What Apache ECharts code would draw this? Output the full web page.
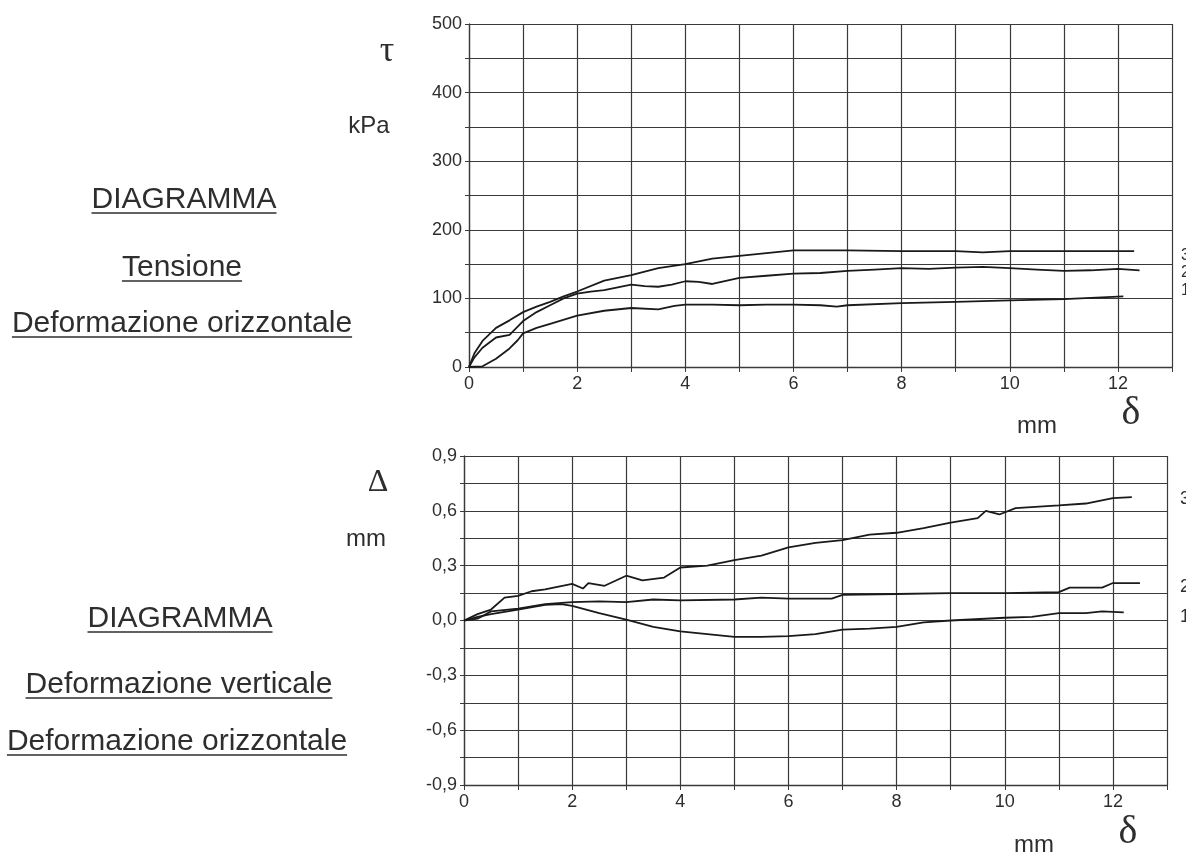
<!DOCTYPE html>
<meta charset="utf-8" />
<style>
html, body { margin: 0; padding: 0; background: #fff; }
#chart { width: 1186px; height: 857px; }
</style>
<div id="chart"></div>
<script src="https://cdn.jsdelivr.net/npm/echarts@6/dist/echarts.min.js"></script>
<script>
// Tensione τ (kPa) vs deformazione orizzontale δ (mm)
const tauX1 = [0, 0.25, 0.5, 0.75, 0.9, 1, 1.25, 1.5, 2, 2.5, 3, 3.5, 3.8, 4, 4.5, 5, 5.5, 6, 6.5, 6.8, 7, 8, 9, 10, 11, 12.1];
const tau1  = [0, 1, 12, 27, 39, 49, 57, 63, 75, 82, 86, 84, 89, 91, 91, 90, 91, 91, 90, 88, 90, 93, 95, 97, 99, 103];
const tauX2 = [0, 0.1, 0.25, 0.5, 0.75, 1, 1.25, 1.5, 1.75, 2, 2.25, 2.5, 2.75, 3, 3.25, 3.5, 3.75, 4, 4.25, 4.5, 5, 5.5, 6, 6.5, 7, 7.5, 8, 8.5, 9, 9.5, 10, 10.5, 11, 11.5, 12, 12.4];
const tau2  = [0, 14, 28, 43, 47, 67, 80, 90, 100, 107, 110, 112, 116, 120, 118, 117, 120, 125, 124, 121, 130, 133, 136, 137, 140, 142, 144, 143, 145, 146, 144, 142, 140, 141, 143, 141];
const tauX3 = [0, 0.1, 0.25, 0.5, 0.75, 1, 1.25, 1.5, 1.75, 2, 2.5, 3, 3.5, 4, 4.5, 5, 5.5, 6, 7, 8, 9, 9.5, 10, 11, 12, 12.3];
const tau3  = [0, 20, 38, 57, 68, 80, 88, 95, 103, 110, 126, 134, 144, 150, 158, 162, 166, 170, 170, 169, 169, 167, 169, 169, 169, 169];

// Deformazione verticale Δ (mm) vs deformazione orizzontale δ (mm)
const dX1 = [0, 0.25, 0.5, 1, 1.5, 1.8, 2, 2.5, 3, 3.5, 4, 4.5, 5, 5.5, 6, 6.5, 7, 7.5, 8, 8.5, 9, 10, 10.5, 11, 11.5, 11.8, 12.2];
const d1  = [0, 0.02, 0.035, 0.06, 0.085, 0.09, 0.08, 0.04, 0.005, -0.035, -0.06, -0.075, -0.09, -0.09, -0.085, -0.075, -0.05, -0.045, -0.035, -0.01, 0, 0.015, 0.02, 0.04, 0.04, 0.05, 0.045];
const dX2 = [0, 0.25, 0.5, 1, 1.5, 2, 2.5, 3, 3.5, 4, 5, 5.5, 6, 6.5, 6.8, 7, 8, 9, 10, 11, 11.2, 11.8, 12, 12.5];
const d2  = [0, 0.01, 0.05, 0.065, 0.09, 0.1, 0.105, 0.1, 0.115, 0.11, 0.115, 0.125, 0.12, 0.12, 0.12, 0.14, 0.145, 0.15, 0.15, 0.155, 0.18, 0.18, 0.205, 0.205];
const dX3 = [0, 0.25, 0.5, 0.75, 1, 1.25, 1.5, 2, 2.2, 2.3, 2.6, 3, 3.3, 3.7, 4, 4.5, 5, 5.5, 6, 6.5, 7, 7.5, 8, 8.5, 9, 9.5, 9.65, 9.9, 10.2, 11, 11.5, 12, 12.35];
const d3  = [0, 0.035, 0.06, 0.125, 0.135, 0.16, 0.17, 0.2, 0.175, 0.205, 0.19, 0.245, 0.22, 0.235, 0.29, 0.3, 0.33, 0.355, 0.4, 0.425, 0.44, 0.47, 0.48, 0.505, 0.535, 0.56, 0.6, 0.58, 0.615, 0.63, 0.64, 0.67, 0.675];

const curveNames = ['1', '2', '3'];

const INK = '#2e2e2e';
const GRIDC = '#3a3a3a';
const FONT = '"Liberation Sans", Arial, sans-serif';
const SERIF = '"Liberation Serif", "DejaVu Serif", serif';

const pair = (xs, ys) => xs.map((x, i) => [x, ys[i]]);

const measure = (() => {
  const ctx = document.createElement('canvas').getContext('2d');
  return (text, font) => { ctx.font = font; return ctx.measureText(text).width; };
})();

// underlined captions on the left
const captions = [
  { text: 'DIAGRAMMA', x: 184, y: 200 },
  { text: 'Tensione', x: 182, y: 268 },
  { text: 'Deformazione orizzontale', x: 182, y: 324 },
  { text: 'DIAGRAMMA', x: 180, y: 619 },
  { text: 'Deformazione verticale', x: 179, y: 685 },
  { text: 'Deformazione orizzontale', x: 177, y: 742 }
];
const capFont = '30px ' + FONT;
const graphic = [];
captions.forEach(c => {
  const w = measure(c.text, capFont);
  graphic.push({
    type: 'text', x: c.x, y: c.y,
    style: { text: c.text, font: capFont, fill: INK, align: 'center', verticalAlign: 'middle' }
  });
  graphic.push({
    type: 'line',
    shape: { x1: c.x - w / 2, y1: c.y + 13, x2: c.x + w / 2, y2: c.y + 13 },
    style: { stroke: INK, lineWidth: 1.5 }
  });
});

const label = (text, x, y, font, align) => ({
  type: 'text', x, y,
  style: { text, font, fill: INK, align: align || 'center', verticalAlign: 'middle' }
});
graphic.push(
  label('τ', 387, 52, '36px ' + SERIF),
  label('kPa', 369, 126, '24px ' + FONT),
  label('mm', 1037, 426, '24px ' + FONT),
  label('δ', 1131, 413, '40px ' + SERIF),
  label('Δ', 378, 483, '32px ' + SERIF),
  label('mm', 366, 539, '24px ' + FONT),
  label('mm', 1034, 845, '24px ' + FONT),
  label('δ', 1128, 832, '40px ' + SERIF),
  // curve numbers at the right edge
  label('3', 1181, 256, '16px ' + FONT, 'left'),
  label('2', 1181, 273, '16px ' + FONT, 'left'),
  label('1', 1181, 291, '16px ' + FONT, 'left'),
  label('3', 1180, 499, '18px ' + FONT, 'left'),
  label('2', 1180, 587, '18px ' + FONT, 'left'),
  label('1', 1180, 617, '18px ' + FONT, 'left')
);

const xAxisBase = (gridIndex) => ({
  type: 'value', gridIndex, min: 0, max: 13, interval: 1,
  axisLine: { show: true, onZero: false, lineStyle: { color: GRIDC, width: 1.3 } },
  axisTick: { show: true, length: 5, lineStyle: { color: GRIDC } },
  axisLabel: {
    color: INK, fontSize: 18, fontFamily: FONT, margin: 8,
    formatter: v => (v % 2 === 0 && v <= 12) ? String(v) : ''
  },
  splitLine: { show: true, lineStyle: { color: GRIDC, width: 1.2 } }
});

const chart = echarts.init(document.getElementById('chart'), null, { renderer: 'canvas' });
chart.setOption({
  animation: false,
  backgroundColor: '#fff',
  grid: [
    { left: 469, top: 24, width: 703, height: 343 },
    { left: 464, top: 456, width: 703, height: 329 }
  ],
  xAxis: [xAxisBase(0), xAxisBase(1)],
  yAxis: [
    {
      type: 'value', gridIndex: 0, min: 0, max: 500, interval: 50,
      axisLine: { show: true, lineStyle: { color: GRIDC, width: 1.3 } },
      axisTick: { show: true, length: 4, lineStyle: { color: GRIDC } },
      axisLabel: {
        color: INK, fontSize: 18, fontFamily: FONT, margin: 7,
        formatter: v => (v % 100 === 0) ? String(v) : ''
      },
      splitLine: { show: true, lineStyle: { color: GRIDC, width: 1.2 } }
    },
    {
      type: 'value', gridIndex: 1, min: -0.9, max: 0.9, interval: 0.15,
      axisLine: { show: true, onZero: false, lineStyle: { color: GRIDC, width: 1.3 } },
      axisTick: { show: true, length: 4, lineStyle: { color: GRIDC } },
      axisLabel: {
        color: INK, fontSize: 18, fontFamily: FONT, margin: 7,
        formatter: v => {
          const k = Math.round(v * 100);
          return k % 30 === 0 ? (k / 100).toFixed(1).replace('.', ',') : '';
        }
      },
      splitLine: { show: true, lineStyle: { color: GRIDC, width: 1.2 } }
    }
  ],
  graphic,
  series: [
    [tauX1, tau1, 0], [tauX2, tau2, 0], [tauX3, tau3, 0],
    [dX1, d1, 1], [dX2, d2, 1], [dX3, d3, 1]
  ].map(([xs, ys, g], i) => ({
    name: curveNames[i % 3],
    type: 'line',
    xAxisIndex: g, yAxisIndex: g,
    data: pair(xs, ys),
    showSymbol: false,
    smooth: false,
    lineStyle: { color: '#1a1a1a', width: 1.8 }
  }))
});
</script>
